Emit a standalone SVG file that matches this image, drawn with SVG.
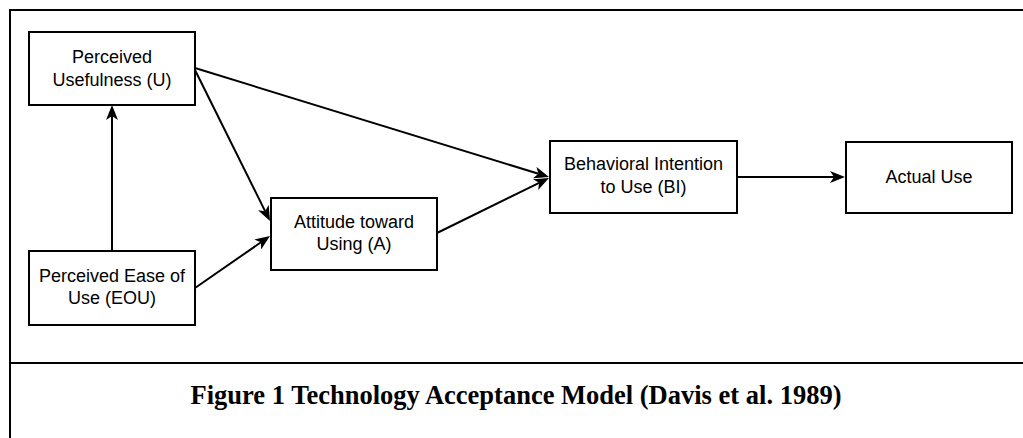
<svg xmlns="http://www.w3.org/2000/svg" width="1023" height="438" viewBox="0 0 1023 438">
  <style>
    .box { fill: #fff; stroke: #000; stroke-width: 2; }
    .lbl { font-family: "Liberation Sans", Arial, sans-serif; font-size: 18px; fill: #000; text-anchor: middle; }
    .edge { stroke: #000; stroke-width: 2; fill: none; marker-end: url(#head); }
    .cap { font-family: "Liberation Serif", "Times New Roman", serif; font-weight: bold; font-size: 26.5px; fill: #000; text-anchor: middle; }
  </style>
  <defs>
    <marker id="head" markerUnits="userSpaceOnUse" markerWidth="15" markerHeight="12" refX="4" refY="6" orient="auto" viewBox="0 0 15 12">
      <path d="M0,0 L15,6 L0,12 L4,6 z" fill="#000"/>
    </marker>
  </defs>

  <rect width="1023" height="438" fill="#fff"/>

  <!-- outer frame and caption divider -->
  <g id="frame">
    <rect x="10" y="10" width="1020" height="440" fill="none" stroke="#000" stroke-width="2"/>
    <line x1="10" y1="363" x2="1023" y2="363" stroke="#000" stroke-width="2"/>
  </g>

  <g id="connectors">
    <line class="edge" x1="112" y1="251" x2="112" y2="116"/>
    <line class="edge" x1="195" y1="68" x2="538.5" y2="173.8"/>
    <line class="edge" x1="195" y1="70" x2="265.1" y2="211.15"/>
    <line class="edge" x1="195" y1="288" x2="260.96" y2="242.27"/>
    <line class="edge" x1="437" y1="233" x2="539.13" y2="182.85"/>
    <line class="edge" x1="737" y1="177" x2="834" y2="177"/>
  </g>

  <g id="pu">
    <rect class="box" x="29" y="32" width="166" height="73"/>
    <text class="lbl" x="112" y="63">Perceived</text>
    <text class="lbl" x="112" y="86">Usefulness (U)</text>
  </g>

  <g id="eou">
    <rect class="box" x="29" y="251" width="166" height="74"/>
    <text class="lbl" x="112" y="282">Perceived Ease of</text>
    <text class="lbl" x="112" y="304">Use (EOU)</text>
  </g>

  <g id="attitude">
    <rect class="box" x="271" y="198" width="166" height="72"/>
    <text class="lbl" x="354" y="228">Attitude toward</text>
    <text class="lbl" x="354" y="250">Using (A)</text>
  </g>

  <g id="bi">
    <rect class="box" x="550" y="141" width="187" height="72"/>
    <text class="lbl" x="643.5" y="170">Behavioral Intention</text>
    <text class="lbl" x="643.5" y="193">to Use (BI)</text>
  </g>

  <g id="actual">
    <rect class="box" x="846" y="142" width="166" height="71"/>
    <text class="lbl" x="929" y="183">Actual Use</text>
  </g>

  <g id="caption">
    <text class="cap" x="516" y="404">Figure 1 Technology Acceptance Model (Davis et al. 1989)</text>
  </g>
</svg>
